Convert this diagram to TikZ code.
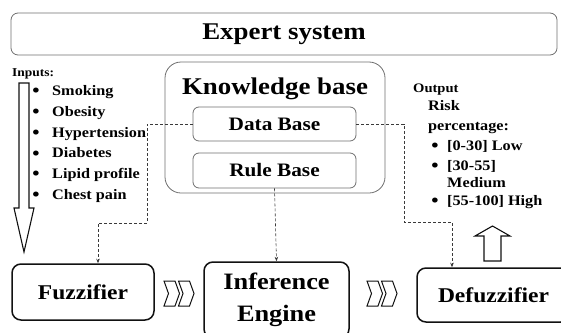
\documentclass[tikz,border=0pt]{standalone}
\usepackage{fontspec}
\setmainfont{Liberation Serif}[FakeStretch=1.12]
\usetikzlibrary{arrows.meta}
\definecolor{softborder}{HTML}{6E6E6E}
\definecolor{darkline}{HTML}{111111}
\definecolor{dashline}{HTML}{3A3A3A}
\tikzset{
  softbox/.style={rectangle, rounded corners=6pt, draw=softborder, line width=0.8pt, inner sep=0pt},
  stagebox/.style={rectangle, rounded corners=9pt, draw=darkline, line width=1.5pt, align=center, inner sep=0pt},
  bigtext/.style={font=\bfseries\fontsize{24}{32}\selectfont, align=center},
  midtext/.style={font=\bfseries\fontsize{19}{23}\selectfont},
  stagetext/.style={font=\bfseries\fontsize{21}{25}\selectfont},
  listtext/.style={font=\bfseries\fontsize{14.5}{17}\selectfont, anchor=west, inner sep=0pt, text height=0.7em, text depth=0.2em},
  smalltext/.style={font=\bfseries\fontsize{12}{14}\selectfont, anchor=west, inner sep=0pt, text height=0.7em, text depth=0.2em},
  bulletmark/.style={font=\fontsize{21}{24}\selectfont, inner sep=0pt},
  link/.style={-{Stealth[length=4.5pt,width=3.5pt]}, dash pattern=on 3pt off 2pt, line width=0.6pt, draw=dashline},
  hollow/.style={draw=darkline, line width=1.1pt, fill=white, line join=miter}
}

\begin{document}
\begin{tikzpicture}[x=1pt, y=-1pt]
\useasboundingbox (0,0) rectangle (561,332);

% top frame
\node[softbox, rounded corners=7pt, minimum width=546pt, minimum height=42pt, bigtext] (expert) at (284,34) {Expert system};

% knowledge base
\node[softbox, rounded corners=16pt, minimum width=220pt, minimum height=131pt] (kb) at (275,127.5) {};
\node[bigtext, inner sep=0pt] (kbtitle) at (275,89) {Knowledge base};
\node[softbox, minimum width=163pt, minimum height=34pt, midtext] (db) at (274.5,124) {Data Base};
\node[softbox, minimum width=163pt, minimum height=35pt, midtext] (rb) at (274.5,170.5) {Rule Base};

% stages
\node[stagebox, minimum width=142pt, minimum height=56pt, stagetext] (fuzz) at (83,292) {Fuzzifier};
\node[stagebox, minimum width=145pt, minimum height=76pt, bigtext, font=\bfseries\fontsize{23.5}{32}\selectfont] (infer) at (276.5,300) {Inference\\Engine};
\node[stagebox, minimum width=153pt, minimum height=54pt, stagetext] (defuzz) at (493.5,295) {Defuzzifier};

% inputs
\node[smalltext] (intitle) at (12,74) {Inputs:};
\foreach \name [count=\i] in {Smoking, Obesity, Hypertension, Diabetes, Lipid profile, Chest pain} {
  \node[bulletmark] (inb\i) at (36,72.2+20.8*\i) {\textbullet};
  \node[listtext] (in\i) at (52,72.2+20.8*\i) {\name};
}
\draw[hollow] (19,83) -- (29,83) -- (29,208) -- (34,208) -- (24,252) -- (14,208) -- (19,208) -- cycle;

% output
\node[smalltext, font=\bfseries\fontsize{13}{15}\selectfont] (outtitle) at (413,90) {Output};
\node[listtext] (risk) at (428,108) {Risk};
\node[listtext] (perc) at (428,128) {percentage:};
\node[bulletmark] (outb1) at (435,148) {\textbullet};
\node[bulletmark] (outb2) at (435,168) {\textbullet};
\node[bulletmark] (outb3) at (435,203) {\textbullet};
\node[listtext] (low) at (447,148) {[0-30] Low};
\node[listtext] (mid) at (447,168) {[30-55]};
\node[listtext] (medium) at (447,185) {Medium};
\node[listtext] (high) at (447,203) {[55-100] High};
\draw[hollow] (484,261) -- (484,236) -- (475,236) -- (492.5,226) -- (510,236) -- (501,236) -- (501,261) -- cycle;

% chevrons between stages
\foreach \cx in {164, 178.5, 367, 381.5}
  \draw[hollow, line width=1pt] (\cx,281) -- ++(11,0) -- ++(4.5,12.5) -- ++(-4.5,12.5) -- ++(-11,0) -- ++(4.5,-12.5) -- cycle;

% dashed links
\coordinate (leftbend) at (147,223);
\coordinate (rightbend) at (404,222);
\draw[link] (db.west) -| (leftbend) -| ([xshift=15pt]fuzz.north);
\draw[link] (db.east) -| (rightbend) -| ([xshift=-41.5pt]defuzz.north);
\draw[link] (rb.south) -- (infer.north);

\end{tikzpicture}
\end{document}
